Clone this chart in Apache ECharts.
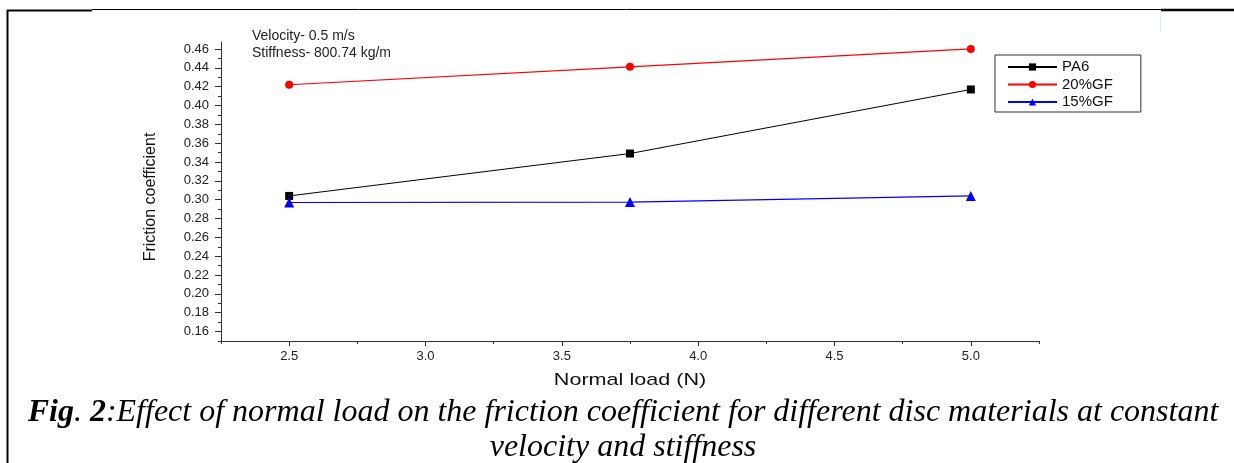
<!DOCTYPE html>
<html>
<head>
<meta charset="utf-8">
<script src="https://cdn.jsdelivr.net/npm/echarts@6/dist/echarts.min.js"></script>
<style>
html,body{margin:0;padding:0;background:#fff;}
#c{width:1234px;height:463px;}
</style>
</head>
<body>
<div id="c"></div>
<script>
// ---- data ----
const loads = [2.5, 3.75, 5.0];
const pa6 = [0.304, 0.349, 0.417];
const gf20 = [0.422, 0.441, 0.460];
const gf15 = [0.297, 0.2975, 0.304];
const seriesNames = ['PA6', '20%GF', '15%GF'];
const yMajorTicks = [0.16,0.18,0.20,0.22,0.24,0.26,0.28,0.30,0.32,0.34,0.36,0.38,0.40,0.42,0.44,0.46];
const yMinorTicks = [0.15,0.17,0.19,0.21,0.23,0.25,0.27,0.29,0.31,0.33,0.35,0.37,0.39,0.41,0.43,0.45];
const xMajorTicks = [2.5,3.0,3.5,4.0,4.5,5.0];
const xMinorTicks = [2.25,2.75,3.25,3.75,4.25,4.75,5.25];
const xTitle = 'Normal load (N)';
const yTitle = 'Friction coefficient';
const note1 = 'Velocity- 0.5 m/s';
const note2 = 'Stiffness- 800.74 kg/m';

const chart = echarts.init(document.getElementById('c'), null, {renderer: 'canvas'});
const axisColor = '#333';
const font = 'Liberation Sans, Arial, sans-serif';
const serif = 'Liberation Serif, Times New Roman, serif';
const pairs = arr => loads.map((x, i) => [x, arr[i]]);

const option = {
  animation: false,
  backgroundColor: '#fff',
  grid: {left: 221, right: 195, top: 42, bottom: 122, containLabel: false},
  xAxis: [{
    type: 'value', min: 2.25, max: 5.25,
    axisLine: {lineStyle: {color: axisColor, width: 1}},
    axisTick: {show: true, length: 5, inside: false, customValues: xMajorTicks, lineStyle: {color: axisColor}},
    axisLabel: {customValues: xMajorTicks, formatter: v => v.toFixed(1), color: '#222', fontFamily: font, fontSize: 13, margin: 9},
    splitLine: {show: false}
  }, {
    type: 'value', min: 2.25, max: 5.25, position: 'bottom',
    axisLine: {show: false},
    axisTick: {show: true, length: 3, customValues: xMinorTicks, lineStyle: {color: axisColor}},
    axisLabel: {show: false}, splitLine: {show: false}
  }],
  yAxis: [{
    type: 'value', min: 0.15, max: 0.4674,
    axisLine: {show: true, lineStyle: {color: axisColor, width: 1}},
    axisTick: {show: true, length: 6, customValues: yMajorTicks, lineStyle: {color: axisColor}},
    axisLabel: {customValues: yMajorTicks, formatter: v => v.toFixed(2), color: '#222', fontFamily: font, fontSize: 13, margin: 12},
    splitLine: {show: false}
  }, {
    type: 'value', min: 0.15, max: 0.4674, position: 'left', offset: 0,
    axisLine: {show: false},
    axisTick: {show: true, length: 3, customValues: yMinorTicks, lineStyle: {color: axisColor}},
    axisLabel: {show: false}, splitLine: {show: false}
  }],
  legend: {
    orient: 'vertical', left: 995, top: 55,
    padding: [4.5, 28, 2.5, 12], itemGap: 2.5, itemWidth: 49, itemHeight: 9,
    borderColor: '#333', borderWidth: 1, backgroundColor: '#fff',
    textStyle: {color: '#111', fontFamily: font, fontSize: 15},
    data: seriesNames
  },
  series: [{
    name: seriesNames[0], type: 'line', data: pairs(pa6),
    symbol: 'rect', symbolSize: 8,
    lineStyle: {color: '#000', width: 1}, itemStyle: {color: '#000'}
  }, {
    name: seriesNames[1], type: 'line', data: pairs(gf20),
    symbol: 'circle', symbolSize: 8,
    lineStyle: {color: '#ff0000', width: 1.2}, itemStyle: {color: '#ff0000'}
  }, {
    name: seriesNames[2], type: 'line', data: pairs(gf15),
    symbol: 'triangle', symbolSize: 10,
    lineStyle: {color: '#0000ff', width: 1.2}, itemStyle: {color: '#0000ff'}
  }],
  graphic: [
    {type: 'line', shape: {x1: 7.5, y1: 10, x2: 7.5, y2: 463}, style: {stroke: '#000', lineWidth: 2}},
    {type: 'line', shape: {x1: 7, y1: 10.5, x2: 92, y2: 10.5}, style: {stroke: '#000', lineWidth: 2}},
    {type: 'line', shape: {x1: 92, y1: 9.5, x2: 1161, y2: 9.5}, style: {stroke: '#000', lineWidth: 1}},
    {type: 'line', shape: {x1: 1161, y1: 10, x2: 1234, y2: 10}, style: {stroke: '#000', lineWidth: 2.5}},
    {type: 'line', shape: {x1: 1160.5, y1: 12, x2: 1160.5, y2: 32}, style: {stroke: '#e2ebf5', lineWidth: 1}},
    {type: 'text', left: 252, top: 29, style: {text: note1, fill: '#222', font: '14px ' + font}},
    {type: 'text', left: 252, top: 46, style: {text: note2, fill: '#222', font: '14px ' + font}},
    {type: 'text', x: 630, y: 380, scaleX: 1.27, style: {
      text: xTitle, align: 'center', verticalAlign: 'middle', fill: '#111', font: '17px ' + font
    }},
    {type: 'text', x: 151, y: 197, rotation: Math.PI / 2, style: {
      text: yTitle, align: 'center', verticalAlign: 'middle', fill: '#111', font: '16px ' + font
    }},
    {type: 'text', x: 623, y: 413, style: {
      text: '{b|Fig}{r|. }{b|2}{r|:Effect of normal load on the friction coefficient for different disc materials at constant}',
      align: 'center', verticalAlign: 'middle',
      rich: {
        b: {fontFamily: serif, fontStyle: 'italic', fontWeight: 'bold', fontSize: 32, fill: '#000'},
        r: {fontFamily: serif, fontStyle: 'italic', fontSize: 32, fill: '#000'}
      }
    }},
    {type: 'text', x: 623, y: 448, style: {
      text: 'velocity and stiffness', align: 'center', verticalAlign: 'middle',
      font: 'italic 32px ' + serif, fill: '#000'
    }}
  ]
};
chart.setOption(option);
</script>
</body>
</html>
